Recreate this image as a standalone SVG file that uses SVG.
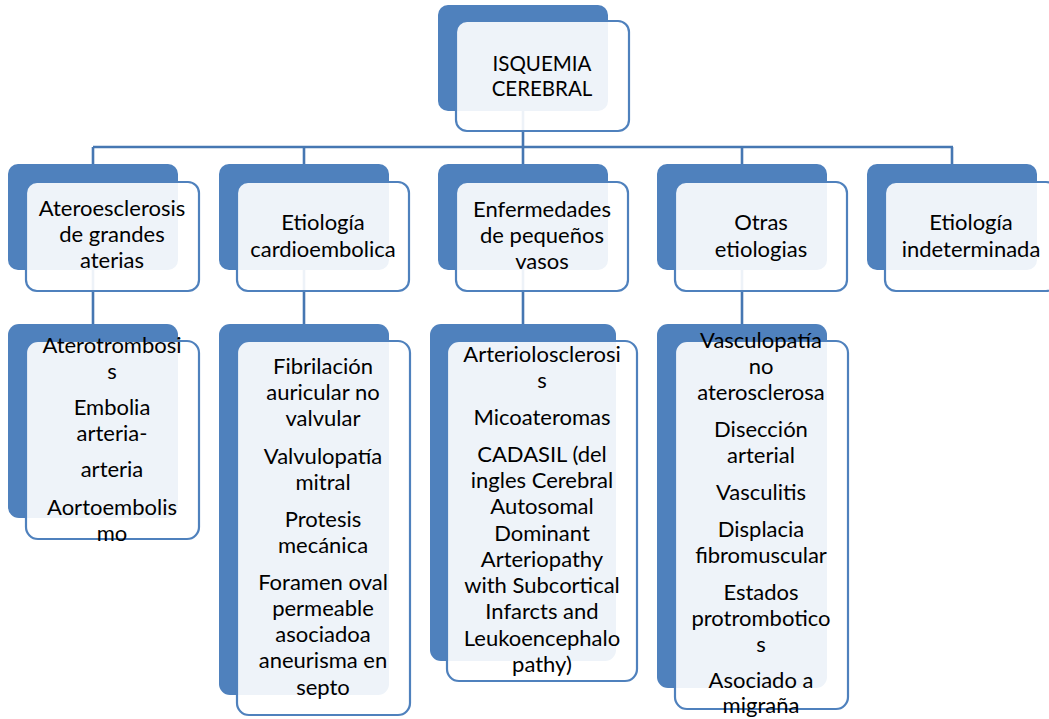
<svg xmlns="http://www.w3.org/2000/svg" width="1049" height="719" viewBox="0 0 1049 719">
  <style>
    .bg { fill: #4F81BD; }
    .card { fill: #FFFFFF; fill-opacity: 0.9; stroke: #4F81BD; stroke-width: 2.2; }
    .wire { fill: none; stroke: #4677B2; stroke-width: 2.6; }
    text { font-family: "Lato", "Liberation Sans", sans-serif; font-size: 22px; fill: #000; text-anchor: middle; }
    .caps { font-size: 20.5px; }
  </style>
  <rect width="1049" height="719" fill="#FFFFFF"/>

  <!-- hierarchy connectors -->
  <g id="connectors">
    <path class="wire" d="M523 110 V147 M93 147 H953 M93 147 V164 M304 147 V164 M523 147 V164 M742 147 V164 M952 147 V164"/>
    <path class="wire" d="M93 270 V324 M304 270 V324 M523 270 V324 M742 270 V324"/>
  </g>

  <!-- root -->
  <g id="isquemia-cerebral">
    <rect class="bg" x="438" y="5" width="170" height="106" rx="10"/>
    <rect class="card" x="456" y="21" width="173" height="110" rx="11"/>
    <text class="caps" x="542" y="71">ISQUEMIA</text>
    <text class="caps" x="542" y="96">CEREBRAL</text>
  </g>

  <!-- level 1 -->
  <g id="aterosclerosis">
    <rect class="bg" x="8" y="164" width="170" height="106" rx="10"/>
    <rect class="card" x="26" y="182" width="173" height="109" rx="11"/>
    <text x="112" y="216">Ateroesclerosis</text>
    <text x="112" y="242">de grandes</text>
    <text x="112" y="268">aterias</text>
  </g>
  <g id="cardioembolica">
    <rect class="bg" x="219" y="164" width="170" height="106" rx="10"/>
    <rect class="card" x="237" y="182" width="172" height="109" rx="11"/>
    <text x="323" y="230">Etiología</text>
    <text x="323" y="257">cardioembolica</text>
  </g>
  <g id="pequenos-vasos">
    <rect class="bg" x="438" y="164" width="170" height="106" rx="10"/>
    <rect class="card" x="456" y="182" width="172" height="109" rx="11"/>
    <text x="542" y="217">Enfermedades</text>
    <text x="542" y="243">de pequeños</text>
    <text x="542" y="269">vasos</text>
  </g>
  <g id="otras">
    <rect class="bg" x="657" y="164" width="170" height="106" rx="10"/>
    <rect class="card" x="675" y="182" width="172" height="109" rx="11"/>
    <text x="761" y="230">Otras</text>
    <text x="761" y="257">etiologias</text>
  </g>
  <g id="indeterminada">
    <rect class="bg" x="867" y="164" width="170" height="106" rx="10"/>
    <rect class="card" x="885" y="182" width="172" height="109" rx="11"/>
    <text x="971" y="230">Etiología</text>
    <text x="971" y="257">indeterminada</text>
  </g>

  <!-- level 2 -->
  <g id="aterosclerosis-items">
    <rect class="bg" x="8" y="324" width="170" height="194" rx="11"/>
    <rect class="card" x="26" y="341" width="173" height="198" rx="12"/>
    <text x="112" y="353">Aterotrombosi</text>
    <text x="112" y="379">s</text>
    <text x="112" y="415">Embolia</text>
    <text x="112" y="441">arteria-</text>
    <text x="112" y="477">arteria</text>
    <text x="112" y="515">Aortoembolis</text>
    <text x="112" y="541">mo</text>
  </g>
  <g id="cardioembolica-items">
    <rect class="bg" x="219" y="324" width="170" height="371" rx="11"/>
    <rect class="card" x="237" y="341" width="173" height="374" rx="12"/>
    <text x="323" y="374">Fibrilación</text>
    <text x="323" y="400">auricular no</text>
    <text x="323" y="426">valvular</text>
    <text x="323" y="464">Valvulopatía</text>
    <text x="323" y="490">mitral</text>
    <text x="323" y="527">Protesis</text>
    <text x="323" y="553">mecánica</text>
    <text x="323" y="590">Foramen oval</text>
    <text x="323" y="616">permeable</text>
    <text x="323" y="642">asociadoa</text>
    <text x="323" y="668">aneurisma en</text>
    <text x="323" y="695">septo</text>
  </g>
  <g id="pequenos-vasos-items">
    <rect class="bg" x="430" y="324" width="186" height="337" rx="11"/>
    <rect class="card" x="447" y="341" width="190" height="340" rx="12"/>
    <text x="542" y="362">Arteriolosclerosi</text>
    <text x="542" y="388">s</text>
    <text x="542" y="425">Micoateromas</text>
    <text x="542" y="462">CADASIL (del</text>
    <text x="542" y="488">ingles Cerebral</text>
    <text x="542" y="514">Autosomal</text>
    <text x="542" y="541">Dominant</text>
    <text x="542" y="567">Arteriopathy</text>
    <text x="542" y="593">with Subcortical</text>
    <text x="542" y="619">Infarcts and</text>
    <text x="542" y="646">Leukoencephalo</text>
    <text x="542" y="672">pathy)</text>
  </g>
  <g id="otras-items">
    <rect class="bg" x="657" y="324" width="170" height="364" rx="11"/>
    <rect class="card" x="675" y="341" width="173" height="368" rx="12"/>
    <text x="761" y="348">Vasculopatía</text>
    <text x="761" y="374">no</text>
    <text x="761" y="400">aterosclerosa</text>
    <text x="761" y="437">Disección</text>
    <text x="761" y="463">arterial</text>
    <text x="761" y="500">Vasculitis</text>
    <text x="761" y="537">Displacia</text>
    <text x="761" y="563">fibromuscular</text>
    <text x="761" y="600">Estados</text>
    <text x="761" y="626">protrombotico</text>
    <text x="761" y="652">s</text>
    <text x="761" y="688">Asociado a</text>
    <text x="761" y="713">migraña</text>
  </g>
</svg>
